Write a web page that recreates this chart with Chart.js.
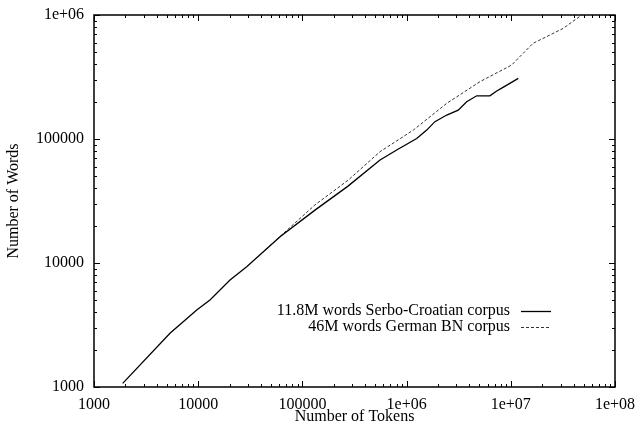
<!DOCTYPE html>
<html lang="en">
<head>
    <meta charset="UTF-8">
    <title>Number of Words vs Number of Tokens</title>
    <style>
        html, body { margin: 0; padding: 0; background: #ffffff; }
    </style>
</head>
<body>
    <div style="width:635px;height:426px">
        <canvas id="myChart" width="635" height="426"></canvas>
    </div>

    <script src="https://cdn.jsdelivr.net/npm/chart.js"></script>
    <script>
        // values (log-log)
        const serboTokens = [1885, 5360, 9680, 12970, 20200, 29200, 42200, 61000, 132000, 272000, 556000, 803000, 1250000, 1560000, 1870000, 2430000, 3130000, 3770000, 4710000, 6300000, 7330000, 8180000, 11800000];
        const serboWords  = [1070, 2710, 4180, 5040, 7300, 9330, 12300, 16300, 26700, 41500, 67800, 81500, 101000, 118000, 138000, 156000, 171000, 200000, 223000, 223000, 244000, 257000, 308000];
        const germanTokens = [40800, 65600, 132000, 276000, 556000, 1160000, 2430000, 5060000, 10200000, 12200000, 16400000, 22100000, 31900000, 48000000];
        const germanWords  = [12000, 17300, 29400, 46700, 79000, 118000, 194000, 290000, 395000, 461000, 592000, 669000, 781000, 1000000];

        const seriesLabels = ['11.8M words Serbo-Croatian corpus', '46M words German BN corpus'];
        const xTickValues = [1e3, 1e4, 1e5, 1e6, 1e7, 1e8];
        const xTickLabels = ['1000', '10000', '100000', '1e+06', '1e+07', '1e+08'];
        const yTickValues = [1e3, 1e4, 1e5, 1e6];
        const yTickLabels = ['1000', '10000', '100000', '1e+06'];

        const fontFamily = '"Liberation Serif", "Times New Roman", serif';
        const baseFont = { family: fontFamily, size: 16 };

        const toPoints = (xs, ys) => xs.map((x, i) => ({ x: x, y: ys[i] }));

        // gnuplot-like border with inward ticks on all four sides, plus key
        const framePlugin = {
            id: 'gnuplotFrame',
            afterDatasetsDraw(chart) {
                const { ctx, chartArea: a, scales } = chart;
                ctx.save();
                ctx.strokeStyle = '#000';
                ctx.lineWidth = 1;
                ctx.beginPath();

                const decadeTicks = (majors) => {
                    const out = [];
                    majors.forEach((d, i) => {
                        out.push({ v: d, len: 6 });
                        if (i < majors.length - 1) {
                            for (let m = 2; m <= 9; m++) out.push({ v: d * m, len: 3 });
                        }
                    });
                    return out;
                };

                decadeTicks(xTickValues).forEach(t => {
                    const px = Math.round(scales.x.getPixelForValue(t.v)) + 0.5;
                    ctx.moveTo(px, a.bottom); ctx.lineTo(px, a.bottom - t.len);
                    ctx.moveTo(px, a.top); ctx.lineTo(px, a.top + t.len);
                });
                decadeTicks(yTickValues).forEach(t => {
                    const py = Math.round(scales.y.getPixelForValue(t.v)) + 0.5;
                    ctx.moveTo(a.left, py); ctx.lineTo(a.left + t.len, py);
                    ctx.moveTo(a.right, py); ctx.lineTo(a.right - t.len, py);
                });
                ctx.stroke();

                ctx.lineWidth = 1.5;
                ctx.strokeRect(a.left, a.top, a.right - a.left, a.bottom - a.top);

                // key
                ctx.font = '16px ' + fontFamily;
                ctx.fillStyle = '#000';
                ctx.textAlign = 'right';
                ctx.textBaseline = 'middle';
                const keyRows = [311, 327];
                chart.data.datasets.forEach((ds, i) => {
                    ctx.fillText(ds.label, 510, keyRows[i]);
                    ctx.beginPath();
                    ctx.lineWidth = ds.borderWidth;
                    ctx.strokeStyle = ds.borderColor;
                    ctx.setLineDash(ds.borderDash || []);
                    ctx.moveTo(521, keyRows[i] + 0.5);
                    ctx.lineTo(551, keyRows[i] + 0.5);
                    ctx.stroke();
                });
                ctx.setLineDash([]);
                ctx.restore();
            }
        };

        new Chart(document.getElementById('myChart').getContext('2d'), {
            type: 'line',
            data: {
                datasets: [{
                    label: seriesLabels[0],
                    data: toPoints(serboTokens, serboWords),
                    borderColor: '#000000',
                    borderWidth: 1.3,
                    pointRadius: 0,
                    tension: 0
                }, {
                    label: seriesLabels[1],
                    data: toPoints(germanTokens, germanWords),
                    borderColor: '#333333',
                    borderWidth: 1,
                    borderDash: [3, 2],
                    pointRadius: 0,
                    tension: 0
                }]
            },
            options: {
                responsive: false,
                animation: false,
                devicePixelRatio: 1,
                layout: { padding: { left: 0, right: 20, top: 15, bottom: 0 } },
                plugins: {
                    legend: { display: false },
                    tooltip: { enabled: false }
                },
                scales: {
                    x: {
                        type: 'logarithmic',
                        min: 1e3,
                        max: 1e8,
                        afterBuildTicks: s => { s.ticks = xTickValues.map(v => ({ value: v })); },
                        afterFit: s => {
                            s.height = 39;
                            s.paddingLeft = 0;
                            s.paddingRight = 0;
                        },
                        grid: { display: false, drawTicks: false },
                        border: { display: false },
                        ticks: {
                            autoSkip: false,
                            maxRotation: 0,
                            padding: 8,
                            color: '#000',
                            font: baseFont,
                            callback: (v, i) => xTickLabels[i]
                        },
                        title: {
                            display: true,
                            text: 'Number of Tokens',
                            color: '#000',
                            font: baseFont,
                            padding: { top: 0, bottom: 0 }
                        }
                    },
                    y: {
                        type: 'logarithmic',
                        min: 1e3,
                        max: 1e6,
                        afterBuildTicks: s => { s.ticks = yTickValues.map(v => ({ value: v })); },
                        afterFit: s => {
                            s.width = 94;
                            s.paddingTop = 0;
                            s.paddingBottom = 0;
                        },
                        grid: { display: false, drawTicks: false },
                        border: { display: false },
                        ticks: {
                            autoSkip: false,
                            padding: 10,
                            color: '#000',
                            font: baseFont,
                            callback: (v, i) => yTickLabels[i]
                        },
                        title: {
                            display: true,
                            text: 'Number of Words',
                            color: '#000',
                            font: baseFont,
                            padding: { top: 4, bottom: 0 }
                        }
                    }
                }
            },
            plugins: [framePlugin]
        });
    </script>
</body>
</html>
